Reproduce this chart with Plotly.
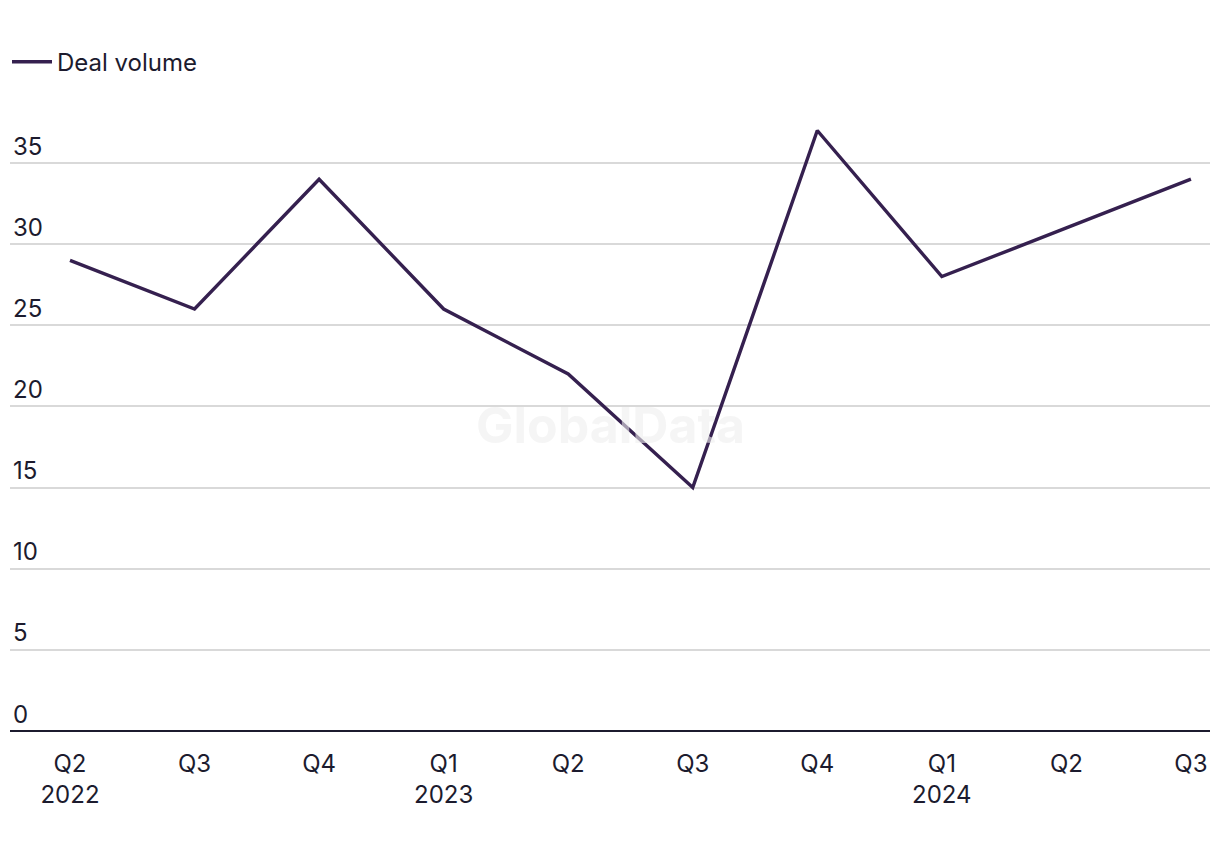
import plotly.graph_objects as go

quarters = ["Q2<br>2022", "Q3", "Q4", "Q1<br>2023", "Q2", "Q3", "Q4", "Q1<br>2024", "Q2", "Q3"]
deal_volume = [29, 26, 34, 26, 22, 15, 37, 28, 31, 34]
y_ticks = [0, 5, 10, 15, 20, 25, 30, 35]

FONT = "Inter, Liberation Sans, sans-serif"
TEXT = "#1c1b2e"
LINE = "#35204f"

x_idx = list(range(len(quarters)))

fig = go.Figure()
fig.add_trace(go.Scatter(
    x=x_idx, y=deal_volume, mode="lines", name="Deal volume",
    line=dict(color=LINE, width=3.4),
))

fig.update_layout(
    width=1212, height=844,
    margin=dict(l=2, r=10, t=92, b=121, autoexpand=False),
    paper_bgcolor="white", plot_bgcolor="white",
    font=dict(family=FONT, size=24, color=TEXT),
    showlegend=True,
    legend=dict(orientation="h", x=-0.0025, xanchor="left", y=1.06, yanchor="middle",
                font=dict(size=24, color=TEXT), itemwidth=40),
    xaxis=dict(
        range=[-0.4817, 9.153],
        tickmode="array", tickvals=x_idx, ticktext=quarters,
        showgrid=False, zeroline=False, automargin=False,
        showline=False, ticks="", ticklen=0, ticklabelstandoff=16,
        tickfont=dict(size=24, color=TEXT),
    ),
    yaxis=dict(
        range=[0, 38.88], automargin=False,
        tickmode="array", tickvals=y_ticks,
        showgrid=True, gridcolor="#d9d9d9", gridwidth=1.5,
        zeroline=True, zerolinecolor=TEXT, zerolinewidth=2,
        ticklabelposition="inside top",
        tickfont=dict(size=24, color=TEXT),
        showline=False,
    ),
    annotations=[dict(
        text="<b>GlobalData</b>", x=0.5, y=0.485, xref="paper", yref="paper",
        showarrow=False, font=dict(size=50, color="rgba(238,238,238,0.6)", family=FONT),
    )],
)

fig.write_html("out.html")
